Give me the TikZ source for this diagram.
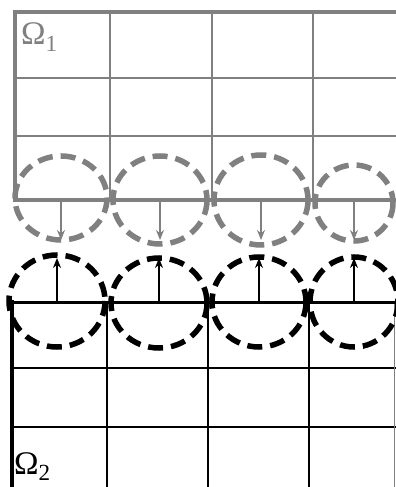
\documentclass[tikz,border=0pt]{standalone}
\usepackage{fontspec}
\setmainfont{Liberation Serif}
\usetikzlibrary{arrows.meta}
\definecolor{subgray}{RGB}{128,128,128}

\begin{document}
\begin{tikzpicture}[
  x=1pt, y=-1pt,
  thin grid/.style ={line width=1.5pt},
  thick edge/.style={line width=3.6pt},
  patch/.style     ={line width=5.5pt, dash pattern=on 15pt off 8pt},
  arr/.style       ={-{Stealth[length=10pt, width=8pt]}, line width=1.4pt},
  lbl/.style       ={anchor=base west, inner sep=0pt, font=\fontsize{33}{33}\selectfont},
]
\useasboundingbox (0,0) rectangle (396,487);

% --- Upper subdomain (gray) ---
\begin{scope}[draw=subgray, color=subgray]
  \foreach \x in {110,212,313} \draw[thin grid] (\x,12) -- (\x,200);
  \foreach \y in {78,136} \draw[thin grid] (15,\y) -- (396,\y);
  \draw[thick edge] (396,12) -- (15,12) -- (15,200);
  \draw[thick edge] (13,200) -- (396,200);
  % overlap patches along the interface
  \foreach \cx/\cy/\rx/\ry in {61/198/46/42, 160/200/47/44, 261/200/47/45, 354/203/39/38}
  {
    \draw[patch] (\cx,\cy) ellipse [x radius=\rx, y radius=\ry];
    \coordinate (top\cx) at (\cx,200);
    \draw[arr] (top\cx) -- ++(0,40);
  }
  \node[lbl] (om1) at (21,45) {Ω\textsubscript{1}};
\end{scope}

% --- Lower subdomain (black) ---
\foreach \x in {107,208,309} \draw[thin grid] (\x,302) -- (\x,487);
\foreach \y in {368,427} \draw[thin grid] (12,\y) -- (396,\y);
\draw[thin grid, subgray] (394.5,302) -- (394.5,487);
\draw[line width=4.5pt] (12,487) -- (12,300);
\draw[line width=3pt] (10,302) -- (396,302);
% overlap patches along the interface
\foreach \cx/\cy/\rx/\ry in {57/301/48/46, 159/303/48/45, 259/302/47/45, 354/302/44/45}
{
  \draw[patch] (\cx,\cy) ellipse [x radius=\rx, y radius=\ry];
  \coordinate (bot\cx) at (\cx,302);
  \draw[arr] (bot\cx) -- ++(0,-44);
}
\node[lbl] (om2) at (14,474) {Ω\textsubscript{2}};
\end{tikzpicture}
\end{document}
